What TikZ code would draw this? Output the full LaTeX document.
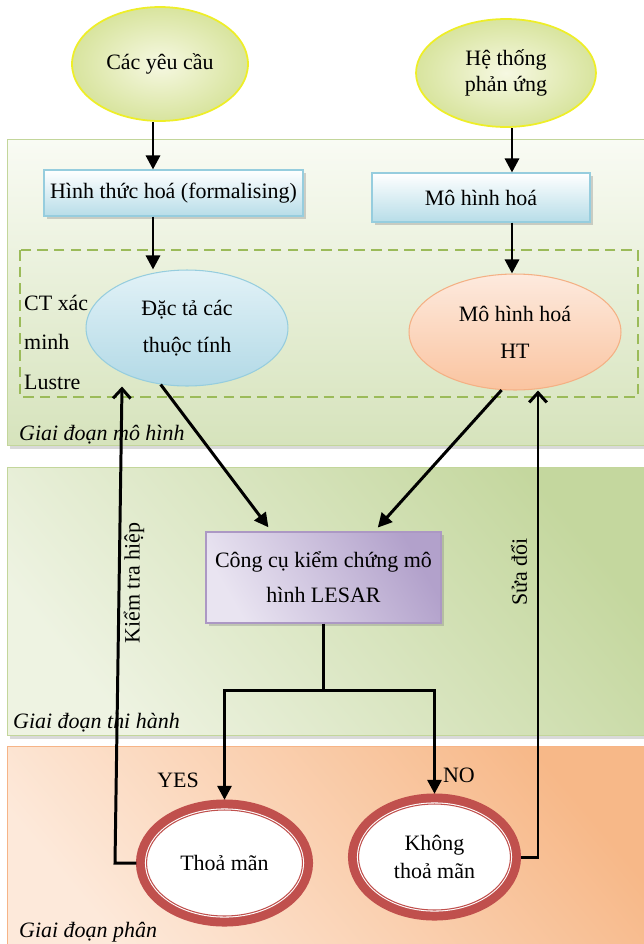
\documentclass[tikz,border=0pt]{standalone}
\usepackage{fontspec}
\setmainfont{Liberation Serif}
\usetikzlibrary{arrows.meta,positioning,shapes.geometric,shadows,calc}
\definecolor{phLine}{RGB}{195, 214, 155}
\definecolor{phOneTop}{RGB}{249, 251, 244}
\definecolor{phOneBot}{RGB}{214, 227, 188}
\definecolor{phTwoLight}{RGB}{238, 243, 226}
\definecolor{phTwoDark}{RGB}{196, 215, 158}
\definecolor{phThreeLine}{RGB}{246, 180, 135}
\definecolor{phThreeLight}{RGB}{253, 233, 218}
\definecolor{phThreeDark}{RGB}{247, 184, 136}
\definecolor{srcIn}{RGB}{246, 248, 226}
\definecolor{srcOut}{RGB}{216, 228, 158}
\definecolor{srcLine}{RGB}{238, 238, 40}
\definecolor{boxBot}{RGB}{183, 221, 232}
\definecolor{boxLine}{RGB}{150, 205, 222}
\definecolor{specTop}{RGB}{226, 242, 247}
\definecolor{specBot}{RGB}{178, 217, 230}
\definecolor{peachTop}{RGB}{253, 234, 222}
\definecolor{peachBot}{RGB}{250, 196, 160}
\definecolor{peachLine}{RGB}{244, 176, 132}
\definecolor{toolLight}{RGB}{233, 228, 241}
\definecolor{toolDark}{RGB}{178, 161, 203}
\definecolor{toolLine}{RGB}{172, 152, 196}
\definecolor{resRed}{RGB}{192, 80, 77}
\definecolor{dashGreen}{RGB}{155, 187, 89}

\begin{document}
\begin{tikzpicture}[
    x=0.02cm, y=-0.02cm,
    font=\fontsize{12.5}{15}\selectfont,
    % khung giai doan (nen)
    phase/.style={
        draw=phLine,
        line width=0.5pt,
        drop shadow={opacity=0.3, shadow xshift=1.5pt, shadow yshift=-2pt}
    },
    phaselabel/.style={anchor=west, font=\fontsize{12.5}{15}\selectfont\itshape},
    % dau vao (ellipse vang)
    source/.style={
        ellipse,
        draw=srcLine,
        line width=1pt,
        inner color=srcIn,
        outer color=srcOut,
        align=center,
        minimum width=3.52cm,
        minimum height=2.28cm
    },
    % hop buoc xu ly
    stepbox/.style={
        rectangle,
        draw=boxLine,
        line width=0.6pt,
        top color=white,
        bottom color=boxBot,
        inner xsep=1pt,
        align=center,
        drop shadow={opacity=0.35, shadow xshift=1.5pt, shadow yshift=-1.5pt}
    },
    % ellipse mo hinh
    model/.style={
        ellipse,
        line width=0.6pt,
        align=center,
        minimum height=2.32cm,
        font=\fontsize{12.5}{21}\selectfont
    },
    % cong cu kiem chung
    tool/.style={
        rectangle,
        draw=toolLine,
        line width=0.6pt,
        top color=toolDark,
        bottom color=toolLight,
        shading angle=-60,
        inner xsep=1pt,
        align=center,
        minimum width=4.7cm,
        minimum height=1.82cm,
        font=\fontsize{12.5}{20}\selectfont,
        drop shadow={opacity=0.35, shadow xshift=1.5pt, shadow yshift=-1.5pt}
    },
    % ket qua (vien do kep)
    result/.style={
        ellipse,
        fill=white,
        draw=resRed,
        line width=0.6pt,
        align=center,
        minimum height=2.12cm,
        font=\fontsize{12.5}{15.5}\selectfont,
        preaction={draw=resRed, line width=12pt},
        preaction={draw=white, line width=1.8pt}
    },
    % mui ten
    flow/.style={-{Triangle[length=8pt, width=8pt]}, line width=1.7pt},
    back/.style={-{Straight Barb[length=5.5pt, width=10pt]}, line width=1.7pt},
    link/.style={line width=1.7pt}
]
    \useasboundingbox (0,0) rectangle (644,944);

    % --- 1. ba giai doan ---
    \draw[phase, top color=phOneTop, bottom color=phOneBot] (7,139) rectangle (652,445);
    \draw[phase, top color=phTwoDark, bottom color=phTwoLight, shading angle=-50] (7,467) rectangle (652,735);
    \draw[phase, draw=phThreeLine, top color=phThreeDark, bottom color=phThreeLight, shading angle=-50] (7,746) rectangle (652,952);

    % khung CT xac minh Lustre
    \draw[dashed, dash pattern=on 6pt off 3.5pt, draw=dashGreen, line width=0.9pt] (20,250) rectangle (638,397);

    % --- 2. cac nut ---
    \node[source] (yc) at (160,64) {Các yêu cầu};
    \node[source, font=\fontsize{12.5}{14.5}\selectfont, minimum width=3.6cm, minimum height=2.16cm] (ht) at (506,73) {Hệ thống\\phản ứng};

    \node[stepbox, minimum width=5.18cm, minimum height=0.92cm] (form) at (173.5,193) {Hình thức hoá (formalising)};
    \node[stepbox, minimum width=4.36cm, minimum height=0.98cm] (mhh) at (481,197.5) {Mô hình hoá};

    \node[model, draw=boxLine, top color=specTop, bottom color=specBot, minimum width=4.04cm] (dt) at (187,328) {Đặc tả các\\thuộc tính};
    \node[model, draw=peachLine, top color=peachTop, bottom color=peachBot, minimum width=4.24cm] (mht) at (515,332) {Mô hình hoá\\HT};

    \node[tool] (lesar) at (323.5,577.5) {Công cụ kiểm chứng mô\\hình LESAR};

    \node[result, minimum width=3.12cm] (thoa) at (224.5,863) {Thoả mãn};
    \node[result, minimum width=3.04cm] (khong) at (434.5,857) {Không\\thoả mãn};

    % cot cho cac mui ten doc
    \coordinate (colL) at (153,0);
    \coordinate (colR) at (512,0);
    \coordinate (kLow) at (115,0);
    \coordinate (kTop) at (122,0);
    \coordinate (colS) at (538,0);

    % --- 3. mui ten ---
    \draw[flow] (yc.south -| colL) -- (form.north -| colL);
    \draw[flow] (form.south -| colL) -- (dt.north -| colL);
    \draw[flow] (ht.south -| colR) -- (mhh.north -| colR);
    \draw[flow] (mhh.south -| colR) -- (mht.north -| colR);

    \draw[flow, shorten >=3pt] (dt.-115) -- ($(lesar.north west)!0.28!(lesar.north east)$);
    \draw[flow, shorten >=3pt] (mht.-103) -- ($(lesar.north west)!0.715!(lesar.north east)$);

    \draw[link] (lesar.south) -- ++(0,67) coordinate (split);
    \draw[flow, shorten >=5.5pt] (split) -| (thoa.north);
    \draw[flow, shorten >=5.5pt] (split) -| (khong.north);

    % vong lap nguoc
    \draw[back, shorten <=5.5pt] (thoa.west) -- (thoa.west -| kLow) -- (dt.south -| kTop);
    \draw[back, shorten <=5.5pt] (khong.east) -| (mht.south -| colS);

    % --- 4. nhan ---
    \node[rotate=90] (kt) at (134,583) {Kiểm tra hiệp};
    \node[rotate=90] (sd) at (519,572) {Sửa đổi};
    \node (yes) at (178,780) {YES};
    \node (no) at (459,775) {NO};
    \node[anchor=west, align=left, font=\fontsize{12.5}{22.5}\selectfont] (ct) at (18,342) {CT xác\\minh\\Lustre};

    \node[phaselabel] (pOne) at (13,435) {Giai đoạn mô hình};
    \node[phaselabel] (pTwo) at (7,723) {Giai đoạn thi hành};
    \node[phaselabel] (pThree) at (13,932) {Giai đoạn phân};
\end{tikzpicture}
\end{document}
